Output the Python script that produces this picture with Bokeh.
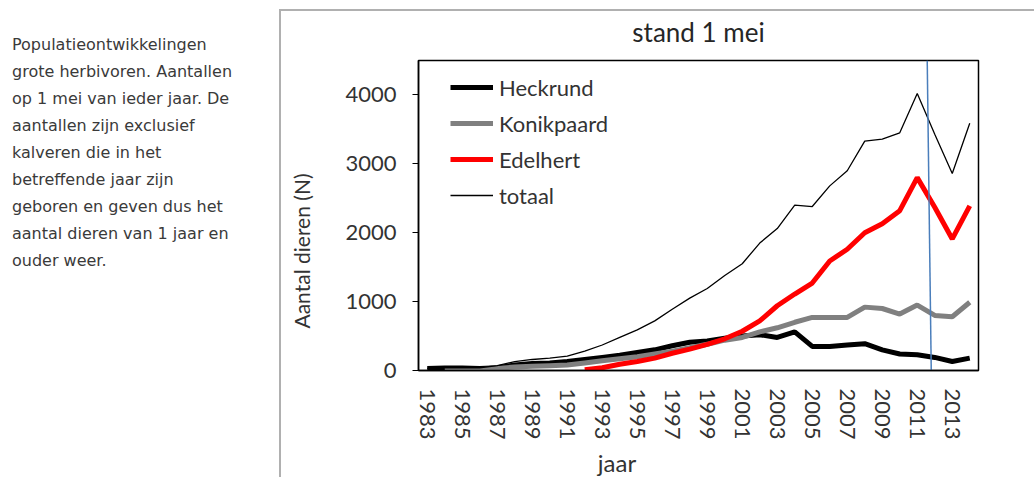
import math
from bokeh.plotting import figure
from bokeh.models import (Range1d, FixedTicker, Legend, LegendItem, Div,
                          ColumnDataSource)
from bokeh.layouts import row
from bokeh.embed import file_html
from bokeh.resources import INLINE

nan = float("nan")

years = list(range(1983, 2015))
heckrund = [30, 35, 35, 30, 40, 80, 100, 110, 130, 160, 190, 220, 260, 300, 360, 410,
            430, 470, 500, 520, 480, 560, 350, 350, 370, 390, 300, 240, 230, 190, 130, 180]
konikpaard = [nan, 5, 5, 10, 30, 50, 60, 70, 80, 110, 140, 170, 200, 240, 280, 330,
              380, 440, 480, 560, 620, 700, 770, 770, 770, 920, 900, 820, 950, 800, 780, 990]
edelhert = [nan, nan, nan, nan, nan, nan, nan, nan, nan, 10, 40, 90, 130, 180, 250, 310,
            380, 460, 570, 720, 940, 1110, 1270, 1590, 1760, 2000, 2130, 2320, 2800, 2370, 1910, 2390]
totaal = [30, 40, 40, 40, 70, 130, 160, 180, 210, 280, 370, 480, 590, 720, 890, 1050,
          1190, 1380, 1550, 1850, 2060, 2400, 2380, 2680, 2900, 3330, 3360, 3450, 4020, 3430, 2860, 3590]

x_tick_years = list(range(1983, 2014, 2))
y_ticks = [0, 1000, 2000, 3000, 4000]
y_max = 4500

# blue marker line (slightly slanted in the original)
marker_x = [2011.57, 2011.8]
marker_y = [y_max, 0]

intro_lines = ["Populatieontwikkelingen", "grote herbivoren. Aantallen",
               "op 1 mei van ieder jaar. De", "aantallen zijn exclusief",
               "kalveren die in het", "betreffende jaar zijn",
               "geboren en geven dus het", "aantal dieren van 1 jaar en",
               "ouder weer."]
y_label = "Aantal dieren (N)"
x_label = "jaar"

FONT = "Lato"
TXT = "#333333"

src = ColumnDataSource(dict(year=years, heckrund=heckrund, konikpaard=konikpaard,
                            edelhert=edelhert, totaal=totaal))

p = figure(width=753, height=477, output_backend="svg", toolbar_location=None,
           x_range=Range1d(1982.5, 2014.5), y_range=Range1d(0, y_max),
           min_border_left=137, min_border_right=56, min_border_top=60,
           min_border_bottom=107, title="stand 1 mei")
p.margin = (0, 0, 0, 0)
p.border_fill_color = None

p.title.align = "center"
p.title.vertical_align = "bottom"
p.title.text_font = FONT
p.title.text_font_size = "26px"
p.title.text_font_style = "normal"
p.title.text_color = "#262626"
p.title.standoff = 26

p.xgrid.visible = False
p.ygrid.visible = False
p.background_fill_color = "white"
p.outline_line_color = "black"
p.outline_line_width = 1.5

r1 = p.line("year", "heckrund", source=src, line_color="black", line_width=5)
r2 = p.line("year", "konikpaard", source=src, line_color="#808080", line_width=5)
r3 = p.line("year", "edelhert", source=src, line_color="#ff0000", line_width=5)
r4 = p.line("year", "totaal", source=src, line_color="black", line_width=1.3)
p.line(marker_x, marker_y, line_color="#4a7ebb", line_width=1.5)

xa = p.xaxis[0]
xa.ticker = FixedTicker(ticks=x_tick_years)
xa.major_label_orientation = "vertical"
xa.major_tick_line_color = None
xa.minor_tick_line_color = None
xa.axis_line_color = "black"
xa.axis_line_width = 1.5
xa.major_label_standoff = 12
xa.major_label_text_font = FONT
xa.major_label_text_font_size = "22px"
xa.major_label_text_color = TXT

ya = p.yaxis[0]
ya.ticker = FixedTicker(ticks=y_ticks)
ya.major_tick_out = 6
ya.major_tick_in = 0
ya.major_tick_line_color = "black"
ya.minor_tick_line_color = None
ya.axis_line_color = "black"
ya.axis_line_width = 1.5
ya.major_label_standoff = 16
ya.major_label_text_font = FONT
ya.major_label_text_font_size = "22px"
ya.major_label_text_color = TXT

legend = Legend(items=[LegendItem(label="Heckrund", renderers=[r1]),
                       LegendItem(label="Konikpaard", renderers=[r2]),
                       LegendItem(label="Edelhert", renderers=[r3]),
                       LegendItem(label="totaal", renderers=[r4])],
                location=(32, 157), glyph_width=43, glyph_height=36, label_height=36,
                spacing=0, padding=0, margin=0, label_standoff=6,
                border_line_color=None, background_fill_alpha=0,
                label_text_font=FONT, label_text_font_size="22px",
                label_text_color=TXT)
p.add_layout(legend)

axis_title_css = ("position:absolute; z-index:5; white-space:nowrap; font-family:Lato; "
                  "color:%s; line-height:1.2;" % TXT)
frame_css = "position:absolute; z-index:5; background:#b0b0b0;"
html = ('<div style="padding:31px 0 0 12px; font-family:\'DejaVu Sans\'; '
        'font-size:16px; line-height:27px; color:#3a3a3a; white-space:nowrap;">'
        + "<br>".join(intro_lines) + "</div>"
        + '<div style="%s left:279px; top:9px; width:755px; height:2px;"></div>' % frame_css
        + '<div style="%s left:279px; top:9px; width:2px; height:468px;"></div>' % frame_css
        + '<div style="%s left:302px; top:251px; font-size:21px; '
          'transform:translate(-50%%,-50%%) rotate(-90deg);">%s</div>' % (axis_title_css, y_label)
        + '<div style="%s left:617px; top:463px; font-size:24px; '
          'transform:translate(-50%%,-50%%);">%s</div>' % (axis_title_css, x_label))

div = Div(text=html, width=281, height=477, margin=(0, 0, 0, 0),
          styles={"overflow": "visible", "position": "relative", "z-index": "5"})

layout = row(div, p)
open("out.html", "w").write(file_html(layout, INLINE))
